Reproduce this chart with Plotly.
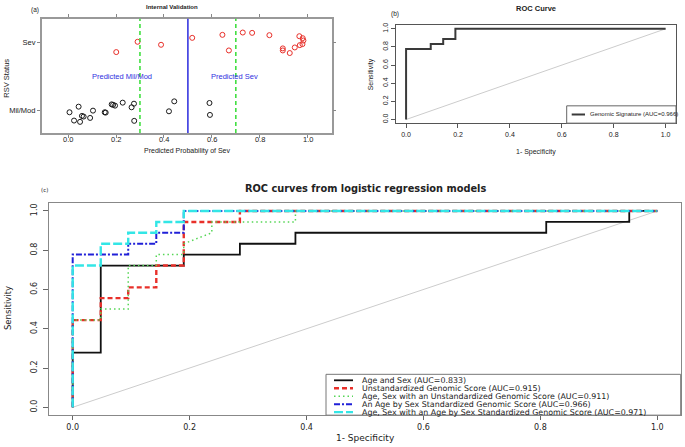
import plotly.graph_objects as go

# ---------------- Panel (a): internal validation ----------------
status_labels = ["Mil/Mod", "Sev"]
status_codes = [0, 1]
prob_ticks = [0.0, 0.2, 0.4, 0.6, 0.8, 1.0]
prob_tick_text = ["0.0", "0.2", "0.4", "0.6", "0.8", "1.0"]

sev_prob = [0.201, 0.290, 0.388, 0.518, 0.644, 0.671, 0.729, 0.768, 0.840,
            0.896, 0.896, 0.925, 0.946, 0.965, 0.967, 0.978, 0.979, 0.982]
sev_jitter = [0.859, 1.010, 0.966, 1.068, 1.112, 0.883, 1.146, 1.141, 1.107,
              0.913, 0.883, 0.845, 0.927, 1.092, 0.961, 0.976, 1.063, 1.029]

mild_prob = [0.006, 0.044, 0.025, 0.050, 0.058, 0.065, 0.092, 0.104, 0.153, 0.157,
             0.182, 0.188, 0.196, 0.228, 0.265, 0.275, 0.276, 0.421, 0.443, 0.590, 0.592]
mild_jitter = [-0.024, 0.058, -0.146, -0.165, -0.078, -0.087, -0.107, 0.000, -0.024, -0.029,
               0.092, 0.085, 0.073, 0.117, 0.049, 0.102, -0.150, -0.010, 0.136, 0.112, -0.063]

green_cutoffs = [0.3, 0.7]
blue_cutoff = 0.5

# ---------------- Panel (b): ROC curve, genomic signature ----------------
roc_ticks = [0.0, 0.2, 0.4, 0.6, 0.8, 1.0]
roc_tick_text = ["0.0", "0.2", "0.4", "0.6", "0.8", "1.0"]
gs_fpr = [0, 0, 0.095, 0.095, 0.143, 0.143, 0.190, 0.190, 1.0]
gs_tpr = [0, 0.778, 0.778, 0.833, 0.833, 0.889, 0.889, 1.0, 1.0]
diag_x = [0, 1]
diag_y = [0, 1]

# ---------------- Panel (c): ROC curves from logistic regression ----------------
age_sex_fpr = [0, 0, 0.048, 0.048, 0.190, 0.190, 0.286, 0.286, 0.381, 0.381, 0.810, 0.810, 0.952, 0.952, 1.0]
age_sex_tpr = [0, 0.278, 0.278, 0.722, 0.722, 0.778, 0.778, 0.833, 0.833, 0.889, 0.889, 0.944, 0.944, 1.0, 1.0]

unstd_fpr = [0, 0, 0.048, 0.048, 0.095, 0.095, 0.143, 0.143, 0.190, 0.190, 0.286, 0.286, 1.0]
unstd_tpr = [0, 0.444, 0.444, 0.556, 0.556, 0.611, 0.611, 0.722, 0.722, 0.944, 0.944, 1.0, 1.0]

as_unstd_fpr = [0, 0, 0.048, 0.048, 0.095, 0.095, 0.143, 0.143, 0.190, 0.190, 0.238, 0.238, 0.381, 0.381, 1.0]
as_unstd_tpr = [0, 0.444, 0.444, 0.500, 0.500, 0.722, 0.722, 0.778, 0.778, 0.833, 0.889, 0.944, 0.944, 1.0, 1.0]

std_fpr = [0, 0, 0.095, 0.095, 0.143, 0.143, 0.190, 0.190, 1.0]
std_tpr = [0, 0.778, 0.778, 0.833, 0.833, 0.889, 0.889, 1.0, 1.0]

as_std_fpr = [0, 0, 0.048, 0.048, 0.095, 0.095, 0.143, 0.143, 0.190, 0.190, 1.0]
as_std_tpr = [0, 0.722, 0.722, 0.833, 0.833, 0.889, 0.889, 0.944, 0.944, 1.0, 1.0]

legend_c = [
    "Age and Sex (AUC=0.833)",
    "Unstandardized Genomic Score (AUC=0.915)",
    "Age, Sex with an Unstandardized Genomic Score (AUC=0.911)",
    "An Age by Sex Standardized Genomic Score (AUC=0.966)",
    "Age, Sex with an Age by Sex Standardized Genomic Score (AUC=0.971)",
]

# ---------------- layout helpers ----------------
W, H = 685, 447
def PX(x):
    return x / W
def PY(y):
    return 1 - y / H

ARIAL = "Liberation Sans, Arial, sans-serif"
DEJA = "DejaVu Sans, sans-serif"
TXT = "#222222"

fig = go.Figure()

# (a) points
fig.add_trace(go.Scatter(x=mild_prob, y=mild_jitter, mode="markers", xaxis="x", yaxis="y",
                         marker=dict(symbol="circle-open", size=5, color="#1a1a1a", line=dict(width=1)),
                         showlegend=False, hoverinfo="skip"))
fig.add_trace(go.Scatter(x=sev_prob, y=sev_jitter, mode="markers", xaxis="x", yaxis="y",
                         marker=dict(symbol="circle-open", size=5, color="#e8302a", line=dict(width=1)),
                         showlegend=False, hoverinfo="skip"))

# (b)
fig.add_trace(go.Scatter(x=diag_x, y=diag_y, mode="lines", xaxis="x2", yaxis="y2",
                         line=dict(color="#cccccc", width=1), showlegend=False, hoverinfo="skip"))
fig.add_trace(go.Scatter(x=gs_fpr, y=gs_tpr, mode="lines", xaxis="x2", yaxis="y2",
                         line=dict(color="#3a3a3a", width=2), showlegend=False, hoverinfo="skip"))

# (c)
series_c = [
    (age_sex_fpr, age_sex_tpr, "#111111", "solid", 1.8),
    (unstd_fpr, unstd_tpr, "#e8302a", "5px,3px", 2.4),
    (as_unstd_fpr, as_unstd_tpr, "#55d655", "1.5px,3px", 1.5),
    (std_fpr, std_tpr, "#2020d8", "6px,2px,2px,2px", 2.0),
    (as_std_fpr, as_std_tpr, "#33e6e6", "9px,3px", 2.4),
]
fig.add_trace(go.Scatter(x=diag_x, y=diag_y, mode="lines", xaxis="x3", yaxis="y3",
                         line=dict(color="#cccccc", width=1), showlegend=False, hoverinfo="skip"))
for fx, ty, col, dash, w in series_c:
    fig.add_trace(go.Scatter(x=fx, y=ty, mode="lines", xaxis="x3", yaxis="y3",
                             line=dict(color=col, width=w, dash=dash),
                             showlegend=False, hoverinfo="skip"))

axis_common = dict(showgrid=False, zeroline=False, showline=True, ticks="outside")

fig.update_layout(
    width=W, height=H, margin=dict(l=0, r=0, t=0, b=0),
    paper_bgcolor="white", plot_bgcolor="white", showlegend=False,
    xaxis=dict(axis_common, anchor="y", domain=[PX(41.7), PX(331.7)], range=[-0.11, 1.1],
               tickvals=prob_ticks, ticklen=3, tickcolor="#888", showticklabels=False,
               linecolor="#999", linewidth=1.5, mirror="allticks"),
    yaxis=dict(axis_common, anchor="x", domain=[PY(131.7), PY(16.7)], range=[-0.33, 1.35],
               tickvals=status_codes, ticktext=status_labels, ticklen=3, tickcolor="#888",
               linecolor="#999", linewidth=1.5, mirror="allticks",
               tickfont=dict(family=ARIAL, size=7.5, color=TXT)),
    xaxis2=dict(axis_common, anchor="y2", domain=[PX(395.7), PX(676)], range=[-0.04, 1.04],
                tickvals=roc_ticks, ticktext=roc_tick_text, ticklen=4, tickcolor="#555",
                linecolor="#555", linewidth=1, mirror=True,
                tickfont=dict(family=ARIAL, size=7, color=TXT)),
    yaxis2=dict(axis_common, anchor="x2", domain=[PY(121.7), PY(23.3)], range=[-0.04, 1.04],
                tickvals=roc_ticks, ticktext=roc_tick_text, ticklen=4, tickcolor="#555",
                linecolor="#555", linewidth=1, mirror=True, tickangle=-90,
                tickfont=dict(family=ARIAL, size=7, color=TXT)),
    xaxis3=dict(axis_common, anchor="y3", domain=[PX(49.3), PX(680.7)], range=[-0.04, 1.04],
                tickvals=roc_ticks, ticktext=roc_tick_text, ticklen=4, tickcolor="#666",
                linecolor="#888", linewidth=1, mirror=True,
                tickfont=dict(family=DEJA, size=8, color=TXT)),
    yaxis3=dict(axis_common, anchor="x3", domain=[PY(415), PY(202)], range=[-0.04, 1.04],
                tickvals=roc_ticks, ticktext=roc_tick_text, ticklen=5, tickcolor="#666",
                linecolor="#888", linewidth=1, mirror=True, tickangle=-90, ticklabelstandoff=3,
                tickfont=dict(family=DEJA, size=8, color=TXT)),
)

shapes = []
# (a) cutoff lines
for c in green_cutoffs:
    shapes.append(dict(type="line", xref="x", yref="y domain", x0=c, x1=c, y0=0, y1=1,
                       line=dict(color="#33dd33", width=1.5, dash="4px,3px")))
shapes.append(dict(type="line", xref="x", yref="y domain", x0=blue_cutoff, x1=blue_cutoff, y0=0, y1=1,
                   line=dict(color="#2b2bdd", width=1.5)))

# (b) legend
shapes.append(dict(type="rect", xref="paper", yref="paper", x0=PX(566.7), x1=PX(676),
                   y0=PY(121.7), y1=PY(104.3), line=dict(color="#666", width=1), fillcolor="white"))
shapes.append(dict(type="line", xref="paper", yref="paper", x0=PX(571.7), x1=PX(585),
                   y0=PY(113), y1=PY(113), line=dict(color="#3a3a3a", width=2)))

# (c) legend
shapes.append(dict(type="rect", xref="paper", yref="paper", x0=PX(326), x1=PX(680.7),
                   y0=PY(415), y1=PY(374), line=dict(color="#777", width=1), fillcolor="white"))
rows_y = [380, 388, 396, 404, 412]
for (fx, ty, col, dash, w), ry in zip(series_c, rows_y):
    shapes.append(dict(type="line", xref="paper", yref="paper", x0=PX(334), x1=PX(353),
                       y0=PY(ry), y1=PY(ry), line=dict(color=col, width=w, dash=dash)))

annotations = []
def ann(text, x, y, size, family=ARIAL, color=TXT, anchor="center", angle=0, bold=False):
    t = "<b>%s</b>" % text if bold else text
    annotations.append(dict(text=t, x=PX(x), y=PY(y), xref="paper", yref="paper",
                            xanchor=anchor, yanchor="middle", showarrow=False, textangle=angle,
                            font=dict(family=family, size=size, color=color)))

# (a) x tick labels placed on the x axis scale
for v, t in zip(prob_ticks, prob_tick_text):
    annotations.append(dict(text=t, x=v, y=PY(138.6), xref="x", yref="paper",
                            xanchor="center", yanchor="middle", showarrow=False,
                            font=dict(family=ARIAL, size=7.5, color=TXT)))

# (a) texts
ann("Internal Validation", 172, 5.5, 6, bold=True)
ann("(a)", 35, 8.3, 6.5)
ann("RSV Status", 7, 77, 7.5, angle=-90)
ann("Predicted Probability of Sev", 186.7, 149.5, 7)
ann("Predicted Mil/Mod", 121.7, 75.3, 7.5, color="#3030e0")
ann("Predicted Sev", 234.3, 75.3, 7.5, color="#3030e0")

# (b) texts
ann("ROC Curve", 536, 7, 7.5, bold=True)
ann("(b)", 395, 11.7, 6.5)
ann("Sensitivity", 370.7, 73, 7, angle=-90)
ann("1- Specificity", 536, 151, 7)
ann("Genomic Signature (AUC=0.966)", 588.3, 113, 6, anchor="left")

# (c) texts
ann("ROC curves from logistic regression models", 365, 187, 9.8, family=DEJA, bold=True)
ann("(c)", 44, 189, 5.5, family=DEJA)
ann("Sensitivity", 7.5, 308, 8.5, family=DEJA, angle=-90)
ann("1- Specificity", 366, 438, 9, family=DEJA)
for txt, ry in zip(legend_c, rows_y):
    ann(txt, 360, ry, 7.9, family=DEJA, anchor="left")

fig.update_layout(shapes=shapes, annotations=annotations)
fig.write_html("out.html", config={"displayModeBar": False},
               post_script="document.body.style.margin='0px';document.body.style.padding='0px';")
